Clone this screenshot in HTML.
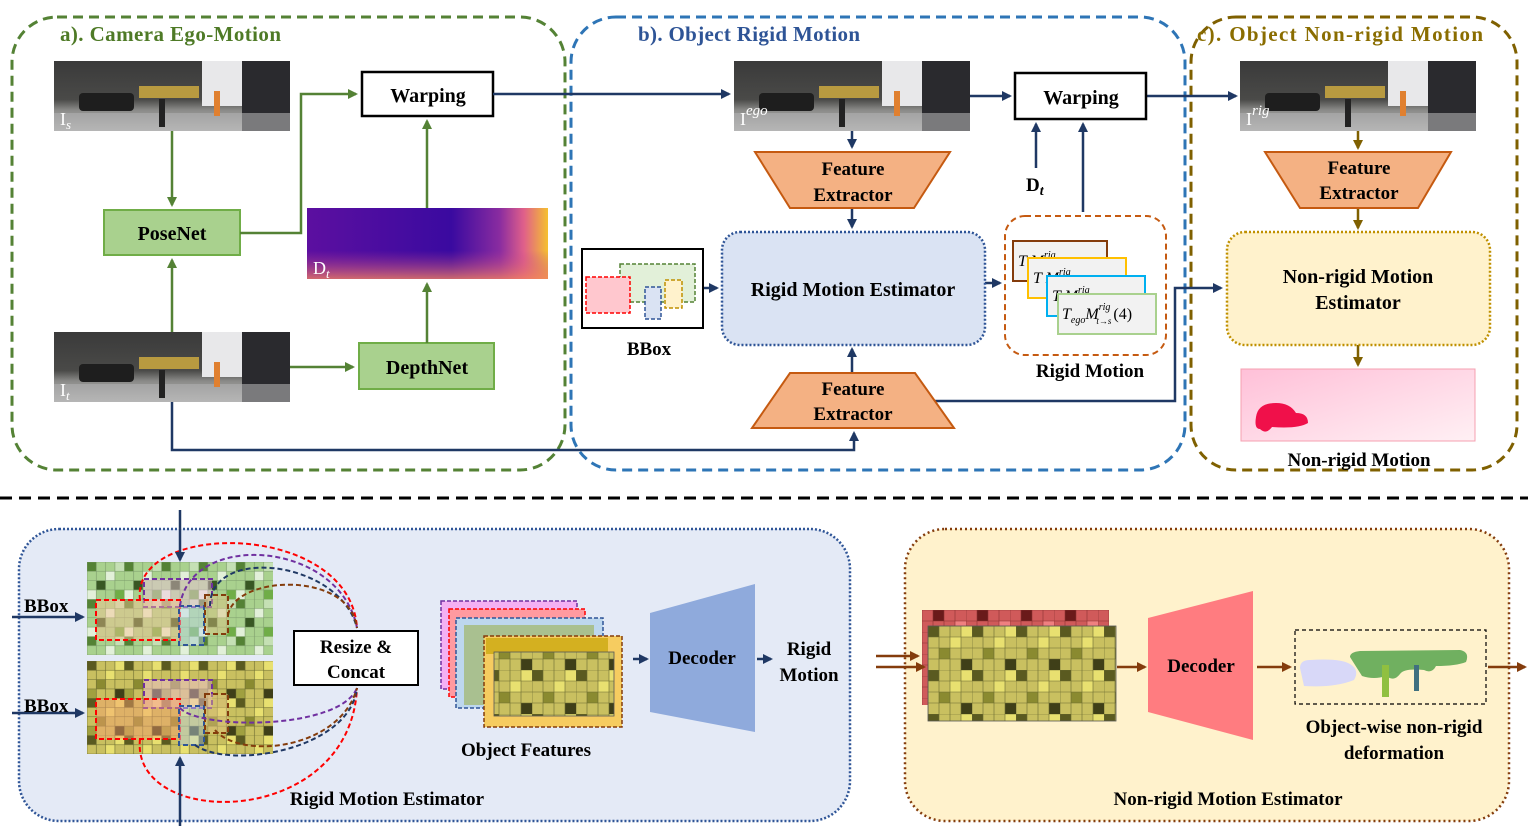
<!DOCTYPE html>
<html><head><meta charset="utf-8"><style>
html,body{margin:0;padding:0;background:#fff;}
svg{display:block;font-family:"Liberation Serif",serif;font-weight:bold;}
</style></head><body>
<svg width="1528" height="836" viewBox="0 0 1528 836" xmlns="http://www.w3.org/2000/svg">
<defs>
<marker id="ab" markerWidth="10" markerHeight="10" refX="8" refY="5" orient="auto" markerUnits="userSpaceOnUse"><path d="M0,0 L10,5 L0,10 z" fill="#1f3864"/></marker>
<marker id="ag" markerWidth="10" markerHeight="10" refX="8" refY="5" orient="auto" markerUnits="userSpaceOnUse"><path d="M0,0 L10,5 L0,10 z" fill="#548235"/></marker>
<marker id="ao" markerWidth="10" markerHeight="10" refX="8" refY="5" orient="auto" markerUnits="userSpaceOnUse"><path d="M0,0 L10,5 L0,10 z" fill="#7f6000"/></marker>
<marker id="ar" markerWidth="10" markerHeight="10" refX="8" refY="5" orient="auto" markerUnits="userSpaceOnUse"><path d="M0,0 L10,5 L0,10 z" fill="#843c0c"/></marker>
<linearGradient id="sky" x1="0" y1="0" x2="0" y2="1"><stop offset="0" stop-color="#3a3a3a"/><stop offset="0.55" stop-color="#4a4a48"/><stop offset="0.7" stop-color="#8a8a88"/><stop offset="1" stop-color="#bdbdbd"/></linearGradient>
<linearGradient id="depth" x1="0" y1="0" x2="1" y2="0"><stop offset="0" stop-color="#5c0fa0"/><stop offset="0.6" stop-color="#3a0aa0"/><stop offset="0.8" stop-color="#8a2ca0"/><stop offset="0.9" stop-color="#e0608a"/><stop offset="1" stop-color="#f5c030"/></linearGradient>
<linearGradient id="depthv" x1="0" y1="0" x2="0" y2="1"><stop offset="0.6" stop-color="#c04090" stop-opacity="0"/><stop offset="1" stop-color="#f08060" stop-opacity="0.8"/></linearGradient>
<linearGradient id="flow" x1="0" y1="0" x2="1" y2="1"><stop offset="0" stop-color="#ffc0d8"/><stop offset="1" stop-color="#fff0f4"/></linearGradient>
<g id="photo">
<rect width="236" height="70" fill="url(#sky)"/>
<rect x="148" y="0" width="40" height="45" fill="#e8e8ea"/>
<rect x="188" y="0" width="48" height="70" fill="#2a2a2e"/>
<rect x="85" y="25" width="60" height="12" fill="#b89a40"/>
<rect x="25" y="32" width="55" height="18" rx="4" fill="#1e1e1e"/>
<rect x="0" y="52" width="236" height="18" fill="#b0b0b0" opacity="0.6"/>
<rect x="105" y="38" width="6" height="28" fill="#222"/>
<rect x="160" y="30" width="6" height="25" fill="#e08030"/>
</g>
<pattern id="gg" width="37.2" height="37.2" patternUnits="userSpaceOnUse" x="87" y="562">
<rect width="37.2" height="37.2" fill="#a9d18e"/>
<rect x="0" y="0" width="9.3" height="9.3" fill="#548235"/><rect x="18.6" y="9.3" width="9.3" height="9.3" fill="#e2f0d9"/>
<rect x="9.3" y="18.6" width="9.3" height="9.3" fill="#385723"/><rect x="27.9" y="27.9" width="9.3" height="9.3" fill="#70ad47"/>
<rect x="27.9" y="0" width="9.3" height="9.3" fill="#c5e0b4"/><rect x="0" y="27.9" width="9.3" height="9.3" fill="#e2f0d9"/>
<path d="M0 0H37.2M0 9.3H37.2M0 18.6H37.2M0 27.9H37.2M0 0V37.2M9.3 0V37.2M18.6 0V37.2M27.9 0V37.2" stroke="#7a9a6a" stroke-width="0.6"/>
</pattern>
<pattern id="yy" width="37.2" height="37.2" patternUnits="userSpaceOnUse" x="87" y="661">
<rect width="37.2" height="37.2" fill="#c9c060"/>
<rect x="0" y="0" width="9.3" height="9.3" fill="#5a5a20"/><rect x="18.6" y="9.3" width="9.3" height="9.3" fill="#e8e070"/>
<rect x="9.3" y="18.6" width="9.3" height="9.3" fill="#8a8a30"/><rect x="27.9" y="27.9" width="9.3" height="9.3" fill="#3f3f18"/>
<rect x="27.9" y="0" width="9.3" height="9.3" fill="#e8e070"/><rect x="0" y="27.9" width="9.3" height="9.3" fill="#a0a040"/>
<path d="M0 0H37.2M0 9.3H37.2M0 18.6H37.2M0 27.9H37.2M0 0V37.2M9.3 0V37.2M18.6 0V37.2M27.9 0V37.2" stroke="#6a6a30" stroke-width="0.6"/>
</pattern>
<pattern id="yy2" width="44" height="44" patternUnits="userSpaceOnUse" x="928" y="626">
<rect width="44" height="44" fill="#c9c060"/>
<rect x="0" y="0" width="11" height="11" fill="#5a5a20"/><rect x="22" y="11" width="11" height="11" fill="#e8e070"/>
<rect x="11" y="22" width="11" height="11" fill="#8a8a30"/><rect x="33" y="33" width="11" height="11" fill="#3f3f18"/>
<rect x="33" y="0" width="11" height="11" fill="#e8e070"/>
<path d="M0 0H44M0 11H44M0 22H44M0 33H44M0 0V44M11 0V44M22 0V44M33 0V44" stroke="#6a6a30" stroke-width="0.6"/>
</pattern>
<pattern id="rr" width="44" height="22" patternUnits="userSpaceOnUse" x="922" y="610">
<rect width="44" height="22" fill="#d05a5a"/><rect x="11" y="0" width="11" height="11" fill="#6a1a1a"/><rect x="33" y="11" width="11" height="11" fill="#f08080"/>
<path d="M0 0H44M0 11H44M0 0V22M11 0V22M22 0V22M33 0V22" stroke="#8a3030" stroke-width="0.6"/>
</pattern>
</defs>

<!-- Section boxes -->
<rect x="12" y="17" width="553" height="453" rx="45" fill="none" stroke="#548235" stroke-width="3" stroke-dasharray="10,6"/>
<rect x="571" y="17" width="614" height="453" rx="45" fill="none" stroke="#2e75b6" stroke-width="3" stroke-dasharray="10,6"/>
<rect x="1191" y="17" width="326" height="453" rx="45" fill="none" stroke="#7f6000" stroke-width="3" stroke-dasharray="10,6"/>
<text x="60" y="41" font-size="21" fill="#4e7a26" textLength="221">a). Camera Ego-Motion</text>
<text x="638" y="41" font-size="21" fill="#2e5496" textLength="222">b). Object Rigid Motion</text>
<text x="1197" y="41" font-size="21" fill="#8a6d00" textLength="286">c). Object Non-rigid Motion</text>

<!-- images -->
<use href="#photo" x="54" y="61"/><use href="#photo" x="54" y="332"/>
<use href="#photo" x="734" y="61"/><use href="#photo" x="1240" y="61"/>
<text x="60" y="125" font-size="18" fill="#fff" font-weight="normal">I<tspan font-size="13" dy="4" font-style="italic">s</tspan></text>
<text x="60" y="396" font-size="18" fill="#fff" font-weight="normal">I<tspan font-size="13" dy="4" font-style="italic">t</tspan></text>
<text x="740" y="125" font-size="18" fill="#fff" font-weight="normal">I<tspan font-size="15" dy="-10" font-style="italic">ego</tspan></text>
<text x="1246" y="125" font-size="18" fill="#fff" font-weight="normal">I<tspan font-size="15" dy="-10" font-style="italic">rig</tspan></text>

<!-- a section -->
<rect x="362" y="72" width="131" height="44" fill="#fff" stroke="#000" stroke-width="2.5"/>
<text x="428" y="102" font-size="20" text-anchor="middle">Warping</text>
<rect x="104" y="210" width="136" height="45" fill="#a9d18e" stroke="#70ad47" stroke-width="2"/>
<text x="172" y="240" font-size="20" text-anchor="middle">PoseNet</text>
<rect x="359" y="343" width="135" height="46" fill="#a9d18e" stroke="#70ad47" stroke-width="2"/>
<text x="427" y="374" font-size="20" text-anchor="middle">DepthNet</text>
<rect x="307" y="208" width="241" height="71" fill="url(#depth)"/>
<rect x="307" y="208" width="241" height="71" fill="url(#depthv)"/>
<text x="313" y="274" font-size="18" fill="#fff" font-weight="normal">D<tspan font-size="13" dy="4" font-style="italic">t</tspan></text>
<g stroke="#548235" stroke-width="2.5" fill="none">
<path d="M172 131V205" marker-end="url(#ag)"/>
<path d="M172 332V260" marker-end="url(#ag)"/>
<path d="M240 233H301V94H356" marker-end="url(#ag)"/>
<path d="M427 208V121" marker-end="url(#ag)"/>
<path d="M427 343V284" marker-end="url(#ag)"/>
<path d="M290 367H353" marker-end="url(#ag)"/>
</g>
<g stroke="#1f3864" stroke-width="2.5" fill="none">
<path d="M493 94H729" marker-end="url(#ab)"/>
<path d="M172 402V450H854V433" marker-end="url(#ab)"/>
<path d="M852 131V147" marker-end="url(#ab)"/>
<path d="M852 208V227" marker-end="url(#ab)"/>
<path d="M852 372V349" marker-end="url(#ab)"/>
<path d="M703 288H717" marker-end="url(#ab)"/>
<path d="M985 283H1000" marker-end="url(#ab)"/>
<path d="M970 96H1010" marker-end="url(#ab)"/>
<path d="M1146 96H1236" marker-end="url(#ab)"/>
<path d="M1036 168V124" marker-end="url(#ab)"/>
<path d="M1083 212V124" marker-end="url(#ab)"/>
<path d="M933 401H1175V288H1221" marker-end="url(#ab)"/>
</g>
<rect x="1015" y="73" width="131" height="46" fill="#fff" stroke="#000" stroke-width="2.5"/>
<text x="1081" y="104" font-size="20" text-anchor="middle">Warping</text>

<!-- b section -->
<polygon points="755,152 950,152 914,208 790,208" fill="#f4b183" stroke="#c55a11" stroke-width="2"/>
<text x="853" y="175" font-size="19" text-anchor="middle">Feature</text>
<text x="853" y="201" font-size="19" text-anchor="middle">Extractor</text>
<polygon points="790,373 915,373 954,428 752,428" fill="#f4b183" stroke="#c55a11" stroke-width="2"/>
<text x="853" y="395" font-size="19" text-anchor="middle">Feature</text>
<text x="853" y="420" font-size="19" text-anchor="middle">Extractor</text>
<rect x="722" y="232" width="263" height="113" rx="18" fill="#dae3f3" stroke="#2f5597" stroke-width="2.5" stroke-dasharray="2,2"/>
<text x="853" y="296" font-size="20" text-anchor="middle">Rigid Motion Estimator</text>
<rect x="582" y="249" width="121" height="79" fill="#fff" stroke="#000" stroke-width="2"/>
<rect x="620" y="264" width="75" height="38" fill="#e2f0d9" stroke="#548235" stroke-width="1.5" stroke-dasharray="4,2"/>
<rect x="586" y="277" width="44" height="36" fill="#ffc7ce" stroke="#ff0000" stroke-width="1.5" stroke-dasharray="4,2"/>
<rect x="645" y="287" width="16" height="32" fill="#dae3f3" stroke="#2f5597" stroke-width="1.5" stroke-dasharray="4,2"/>
<rect x="665" y="280" width="17" height="28" fill="#fff2cc" stroke="#bf9000" stroke-width="1.5" stroke-dasharray="4,2"/>
<text x="649" y="355" font-size="19" text-anchor="middle">BBox</text>
<text x="1026" y="191" font-size="19">D<tspan font-size="14" dy="4" font-style="italic">t</tspan></text>
<rect x="1005" y="216" width="161" height="139" rx="20" fill="none" stroke="#c55a11" stroke-width="2" stroke-dasharray="6,4"/>
<g font-family="Liberation Serif,serif" font-weight="normal" font-style="italic" font-size="16">
<rect x="1013" y="241" width="94" height="40" fill="#f2f2f2" stroke="#843c0c" stroke-width="2"/><text x="1018" y="266">T   M<tspan font-size="10" dy="-8">rig</tspan></text>
<rect x="1028" y="258" width="98" height="40" fill="#f2f2f2" stroke="#ffc000" stroke-width="2"/><text x="1033" y="283">T   M<tspan font-size="10" dy="-8">rig</tspan></text>
<rect x="1047" y="276" width="98" height="40" fill="#f2f2f2" stroke="#00b0f0" stroke-width="2"/><text x="1052" y="301">T   M<tspan font-size="10" dy="-8">rig</tspan></text>
<rect x="1058" y="294" width="98" height="40" fill="#f2f2f2" stroke="#a9d18e" stroke-width="2"/>
<text x="1062" y="319">T<tspan font-size="10" dy="4">ego</tspan><tspan dy="-4">M</tspan><tspan font-size="10" dy="-9">rig</tspan><tspan font-size="9" dx="-14" dy="14">t→s</tspan><tspan font-style="normal" dy="-5" dx="2">(4)</tspan></text>
</g>
<text x="1090" y="377" font-size="19" text-anchor="middle">Rigid Motion</text>

<!-- c section -->
<g stroke="#7f6000" stroke-width="2.5" fill="none">
<path d="M1358 131V148" marker-end="url(#ao)"/>
<path d="M1358 208V228" marker-end="url(#ao)"/>
<path d="M1358 345V365" marker-end="url(#ao)"/>
</g>
<polygon points="1265,152 1451,152 1418,208 1300,208" fill="#f4b183" stroke="#c55a11" stroke-width="2"/>
<text x="1359" y="174" font-size="19" text-anchor="middle">Feature</text>
<text x="1359" y="199" font-size="19" text-anchor="middle">Extractor</text>
<rect x="1227" y="232" width="263" height="113" rx="18" fill="#fff2cc" stroke="#bf9000" stroke-width="2.5" stroke-dasharray="2,2"/>
<text x="1358" y="283" font-size="20" text-anchor="middle">Non-rigid Motion</text>
<text x="1358" y="309" font-size="20" text-anchor="middle">Estimator</text>
<rect x="1241" y="369" width="234" height="72" fill="url(#flow)" stroke="#f4a0b0"/>
<path d="M1256 417 q2 -14 20 -14 q14 0 20 10 q12 0 12 10 q-10 6 -36 4 q-6 8 -12 2 q-6 0 -4 -12z" fill="#f0104a"/>
<text x="1359" y="466" font-size="19" text-anchor="middle">Non-rigid Motion</text>

<!-- separator -->
<line x1="0" y1="498" x2="1528" y2="498" stroke="#000" stroke-width="3" stroke-dasharray="12,7"/>

<!-- bottom left -->
<rect x="19" y="529" width="831" height="292" rx="40" fill="#e4eaf6" stroke="#2f5597" stroke-width="2.5" stroke-dasharray="2,2"/>
<rect x="87" y="562" width="186" height="93" fill="url(#gg)"/>
<rect x="87" y="661" width="186" height="93" fill="url(#yy)"/>
<g fill-opacity="0.45" stroke-width="2" stroke-dasharray="5,3">
<rect x="144" y="579" width="68" height="28" fill="#f4c0e0" stroke="#7030a0"/>
<rect x="96" y="600" width="84" height="40" fill="#f8c090" stroke="#ff0000"/>
<rect x="179" y="606" width="25" height="39" fill="#bdd7ee" stroke="#2f5597"/>
<rect x="205" y="595" width="23" height="39" fill="#e0c080" stroke="#843c0c"/>
<rect x="144" y="680" width="68" height="28" fill="#f4c0e0" stroke="#7030a0"/>
<rect x="96" y="699" width="84" height="40" fill="#f8a070" stroke="#ff0000"/>
<rect x="179" y="706" width="25" height="39" fill="#bdd7ee" stroke="#2f5597"/>
<rect x="205" y="694" width="23" height="39" fill="#e0c080" stroke="#843c0c"/>
</g>
<g fill="none" stroke-width="2" stroke-dasharray="5,3">
<path d="M140 600 C130 520, 350 520, 357 628" stroke="#ff0000"/>
<path d="M180 606 C190 530, 340 540, 357 628" stroke="#7030a0"/>
<path d="M210 606 C210 545, 340 560, 357 628" stroke="#1f3864"/>
<path d="M228 615 C235 575, 350 570, 357 628" stroke="#843c0c"/>
<path d="M140 739 C130 830, 350 830, 357 688" stroke="#ff0000"/>
<path d="M180 708 C200 730, 340 730, 357 688" stroke="#7030a0"/>
<path d="M195 745 C230 770, 350 750, 357 688" stroke="#1f3864"/>
<path d="M215 730 C240 760, 340 750, 357 688" stroke="#843c0c"/>
</g>
<g stroke="#1f3864" stroke-width="2.5" fill="none">
<path d="M180 510V560" marker-end="url(#ab)"/>
<path d="M180 826V758" marker-end="url(#ab)"/>
<path d="M12 617H83" marker-end="url(#ab)"/>
<path d="M12 713H83" marker-end="url(#ab)"/>
<path d="M633 659H647" marker-end="url(#ab)"/>
<path d="M757 659H771" marker-end="url(#ab)"/>
</g>
<text x="24" y="612" font-size="19">BBox</text>
<text x="24" y="712" font-size="19">BBox</text>
<rect x="294" y="631" width="124" height="54" fill="#fff" stroke="#000" stroke-width="2"/>
<text x="356" y="653" font-size="19" text-anchor="middle">Resize &amp;</text>
<text x="356" y="678" font-size="19" text-anchor="middle">Concat</text>
<rect x="441" y="601" width="136" height="88" fill="#f4b0f4" stroke="#7030a0" stroke-width="1.5" stroke-dasharray="4,2"/>
<rect x="449" y="609" width="136" height="88" fill="#ff9aa0" stroke="#ff0000" stroke-width="1.5" stroke-dasharray="4,2"/>
<rect x="456" y="618" width="147" height="90" fill="#bdd7ee" stroke="#2f5597" stroke-width="1.5" stroke-dasharray="4,2"/>
<rect x="464" y="625" width="130" height="80" fill="#a9c090"/>
<rect x="484" y="636" width="138" height="91" fill="#f6cc60" stroke="#843c0c" stroke-width="1.5" stroke-dasharray="4,2"/>
<rect x="486" y="638" width="122" height="16" fill="#d4b020"/>
<rect x="494" y="652" width="120" height="64" fill="url(#yy2)" stroke="#555" stroke-width="0.8"/>
<text x="526" y="756" font-size="19" text-anchor="middle">Object Features</text>
<polygon points="650,613 755,584 755,732 650,712" fill="#8faadc"/>
<text x="702" y="664" font-size="19" text-anchor="middle">Decoder</text>
<text x="809" y="655" font-size="19" text-anchor="middle">Rigid</text>
<text x="809" y="681" font-size="19" text-anchor="middle">Motion</text>
<text x="387" y="805" font-size="19" text-anchor="middle">Rigid Motion Estimator</text>

<!-- bottom right -->
<rect x="905" y="529" width="604" height="292" rx="40" fill="#fff2cc" stroke="#843c0c" stroke-width="2.5" stroke-dasharray="2,3"/>
<rect x="922" y="610" width="187" height="95" fill="url(#rr)"/>
<rect x="928" y="626" width="188" height="95" fill="url(#yy2)" stroke="#555" stroke-width="0.8"/>
<g stroke="#843c0c" stroke-width="2.5" fill="none">
<path d="M876 656H918" marker-end="url(#ar)"/>
<path d="M876 667H924" marker-end="url(#ar)"/>
<path d="M1117 667H1145" marker-end="url(#ar)"/>
<path d="M1257 667H1290" marker-end="url(#ar)"/>
<path d="M1488 667H1525" marker-end="url(#ar)"/>
</g>
<polygon points="1148,618 1253,591 1253,740 1148,712" fill="#ff7c80"/>
<text x="1201" y="672" font-size="19" text-anchor="middle">Decoder</text>
<rect x="1295" y="630" width="191" height="74" fill="none" stroke="#000" stroke-width="1.2" stroke-dasharray="4,3"/>
<path d="M1300 668 q0 -8 10 -8 q30 -2 40 4 q10 6 4 16 q-20 8 -50 6z" fill="#d8d8f8"/>
<path d="M1350 657 q0 -5 10 -6 l100 -1 q10 2 6 12 q-10 4 -30 4 q-4 8 -12 4 q-20 -2 -24 4 q-6 8 -14 2 q-12 4 -24 0z" fill="#70b060"/>
<rect x="1382" y="665" width="7" height="32" fill="#90c040"/>
<rect x="1414" y="665" width="5" height="26" fill="#407080"/>
<text x="1394" y="733" font-size="19" text-anchor="middle">Object-wise non-rigid</text>
<text x="1394" y="759" font-size="19" text-anchor="middle">deformation</text>
<text x="1228" y="805" font-size="19" text-anchor="middle">Non-rigid Motion Estimator</text>
</svg>
</body></html>
